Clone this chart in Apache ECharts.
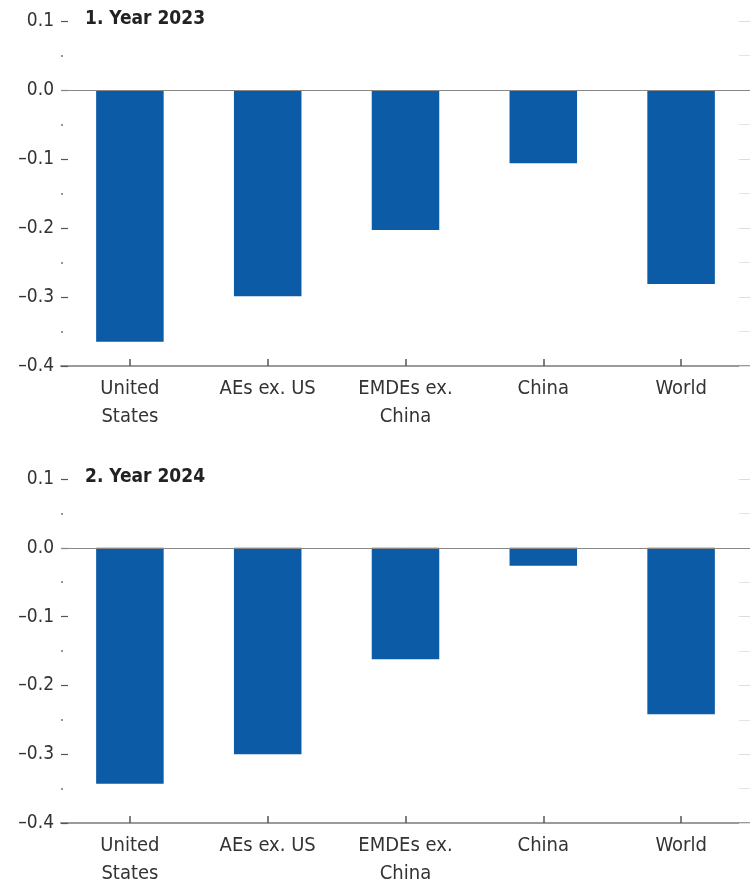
<!DOCTYPE html>
<html>
<head>
<meta charset="utf-8">
<script src="https://cdn.jsdelivr.net/npm/echarts@6/dist/echarts.min.js"></script>
<style>
  html, body { margin: 0; padding: 0; background: #fff; }
  #chart { width: 750px; height: 888px; }
</style>
</head>
<body>
<div id="chart"></div>
<script>
const categories = ['United\nStates', 'AEs ex. US', 'EMDEs ex.\nChina', 'China', 'World']
const values2023 = [-0.365, -0.299, -0.203, -0.106, -0.281]
const values2024 = [-0.343, -0.300, -0.162, -0.026, -0.242]
const panelTitles = ['1. Year 2023', '2. Year 2024']

const barColor = '#0b5ba6'
const axisGrey = '#9a9a9a'
const textColor = '#333'
const font = '"Liberation Sans Narrow", "DejaVu Sans Condensed", sans-serif'

const fmtTick = v => (v < 0 ? '\u2013' : '') + Math.abs(v).toFixed(1)

const chart = echarts.init(document.getElementById('chart'))

const grids = [
  { left: 61, right: -8, top: 21, height: 345 },
  { left: 61, right: -8, top: 479, height: 345 }
]

const xAxes = grids.map((g, i) => ({
  type: 'category',
  gridIndex: i,
  data: categories,
  position: 'bottom',
  axisLine: { show: true, onZero: false, lineStyle: { color: axisGrey, width: 2 } },
  axisTick: { show: true, inside: true, alignWithLabel: true, interval: 0, length: 7, lineStyle: { color: '#555', width: 1.5 } },
  axisLabel: { interval: 0, color: textColor, fontFamily: font, fontSize: 20, lineHeight: 28, margin: 9 }
}))

const yAxes = []
grids.forEach((g, i) => {
  yAxes.push({
    type: 'value',
    gridIndex: i,
    min: -0.4,
    max: 0.1,
    interval: 0.1,
    axisLine: { show: false },
    axisTick: { show: true, inside: true, length: 7, lineStyle: { color: '#555', width: 1.2 } },
    minorTick: { show: true, splitNumber: 2, length: 2, lineStyle: { color: '#777', width: 1.5 } },
    splitLine: { show: false },
    axisLabel: { color: textColor, fontFamily: font, fontSize: 19, margin: 7, formatter: fmtTick }
  })
  yAxes.push({
    type: 'value',
    gridIndex: i,
    position: 'right',
    min: -0.4,
    max: 0.1,
    interval: 0.1,
    axisLine: { show: false },
    axisTick: { show: true, inside: true, length: 11, lineStyle: { color: '#ddd', width: 1 } },
    minorTick: { show: true, splitNumber: 2, length: 11, lineStyle: { color: '#e4e4e4', width: 1 } },
    splitLine: { show: false },
    axisLabel: { show: false }
  })
})

const makeSeries = (data, i) => ({
  type: 'bar',
  xAxisIndex: i,
  yAxisIndex: i * 2,
  data: data,
  barWidth: '49%',
  itemStyle: { color: barColor },
  markLine: {
    silent: true,
    symbol: 'none',
    label: { show: false },
    lineStyle: { color: '#888', width: 1, type: 'solid' },
    data: [{ yAxis: 0 }]
  }
})

chart.setOption({
  animation: false,
  backgroundColor: '#fff',
  title: panelTitles.map((t, i) => ({
    text: t,
    left: 85,
    top: grids[i].top - 11,
    padding: 0,
    textStyle: { color: '#222', fontFamily: font, fontSize: 19, fontWeight: 'bold' }
  })),
  grid: grids,
  xAxis: xAxes,
  yAxis: yAxes,
  series: [makeSeries(values2023, 0), makeSeries(values2024, 1)]
})
</script>
</body>
</html>
